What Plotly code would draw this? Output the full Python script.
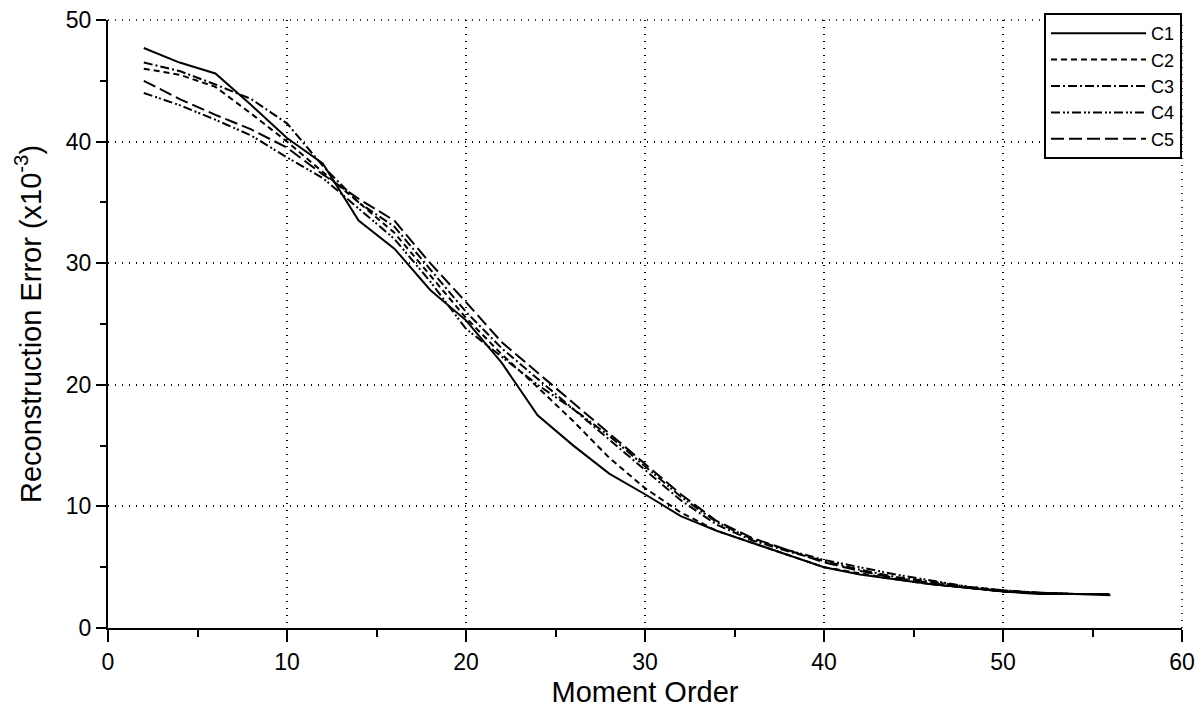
import plotly.graph_objects as go

moment_order = [2, 4, 6, 8, 10, 12, 14, 16, 18, 20, 22, 24, 26, 28, 30, 32, 34, 36, 38, 40, 42, 44, 46, 48, 50, 52, 54, 56]

c1 = [47.7, 46.5, 45.6, 43.0, 40.3, 38.2, 33.5, 31.2, 27.8, 25.3, 21.8, 17.5, 15.0, 12.7, 11.0, 9.2, 8.0, 7.0, 6.0, 5.0, 4.4, 4.0, 3.6, 3.3, 3.0, 2.8, 2.8, 2.7]
c2 = [46.0, 45.5, 44.5, 42.3, 40.0, 37.5, 35.0, 32.5, 29.0, 25.5, 22.5, 19.8, 17.0, 14.0, 11.5, 9.5, 8.0, 7.0, 6.0, 5.0, 4.5, 4.0, 3.6, 3.3, 3.0, 2.9, 2.8, 2.8]
c3 = [46.5, 45.8, 44.7, 43.5, 41.5, 38.0, 35.0, 33.0, 29.5, 26.0, 23.0, 20.5, 18.0, 15.5, 13.0, 10.5, 8.5, 7.2, 6.3, 5.5, 4.8, 4.2, 3.8, 3.4, 3.1, 2.9, 2.8, 2.8]
c4 = [44.0, 43.0, 41.8, 40.5, 38.7, 37.0, 34.5, 32.0, 28.5, 24.6, 22.3, 20.0, 18.0, 15.8, 13.3, 10.8, 8.7, 7.3, 6.4, 5.6, 5.0, 4.4, 3.9, 3.4, 3.1, 2.9, 2.8, 2.8]
c5 = [45.0, 43.5, 42.2, 41.0, 39.5, 37.3, 35.3, 33.5, 30.0, 26.8, 23.5, 21.0, 18.5, 16.0, 13.5, 11.0, 8.8, 7.4, 6.4, 5.4, 4.7, 4.1, 3.7, 3.3, 3.0, 2.9, 2.8, 2.8]

series_names = ["C1", "C2", "C3", "C4", "C5"]
series_values = [c1, c2, c3, c4, c5]
dashes = ["solid", "6px,4px", "9px,3px,2px,3px", "9px,3px,2px,2px,2px,3px", "13px,5px"]

fig = go.Figure()
for name, vals, dash in zip(series_names, series_values, dashes):
    fig.add_trace(go.Scatter(
        x=moment_order, y=vals, name=name, mode="lines",
        line=dict(color="black", width=2, dash=dash),
    ))

grid_dash = "1px,6px"

# page body has an 8px margin, so the figure is sized to fit the remaining window
fig.update_layout(
    width=1195, height=704,
    margin=dict(l=100, r=21, t=12, b=84, autoexpand=False),
    paper_bgcolor="white", plot_bgcolor="white",
    font=dict(family="Liberation Sans, Arial, sans-serif", color="black"),
    showlegend=True,
    legend=dict(
        x=1.0, xanchor="right", y=1.0 + 7 / 608, yanchor="top",
        bgcolor="white", bordercolor="black", borderwidth=2,
        font=dict(size=18, color="black"),
        itemwidth=95, tracegroupgap=0,
    ),
    shapes=[
        # dotted frame along the top and right edges (grid at y=50 and x=60)
        dict(type="line", xref="paper", yref="paper", x0=0, x1=1, y0=1, y1=1,
             line=dict(color="black", width=1.5, dash=grid_dash), layer="below"),
        dict(type="line", xref="paper", yref="paper", x0=1, x1=1, y0=0, y1=1,
             line=dict(color="black", width=1.5, dash=grid_dash), layer="below"),
    ],
)

grid_style = dict(showgrid=True, gridcolor="black", griddash=grid_dash, gridwidth=1.5)

fig.update_xaxes(
    range=[0, 60], tickvals=[0, 10, 20, 30, 40, 50, 60], automargin=False,
    ticklabeloverflow="allow",
    showline=True, linecolor="black", linewidth=2,
    ticks="outside", ticklen=12, tickwidth=2, tickcolor="black",
    minor=dict(tickvals=[5, 15, 25, 35, 45, 55], ticks="outside", ticklen=7, tickwidth=1.5, tickcolor="black", showgrid=False),
    zeroline=False, tickfont=dict(size=23),
    title=dict(text="Moment Order", font=dict(size=29), standoff=8),
    **grid_style,
)
fig.update_yaxes(
    range=[0, 50], tickvals=[0, 10, 20, 30, 40, 50], automargin=False,
    ticklabeloverflow="allow",
    showline=True, linecolor="black", linewidth=2,
    ticks="outside", ticklen=10, tickwidth=2, tickcolor="black",
    minor=dict(tickvals=[5, 15, 25, 35, 45], ticks="outside", ticklen=6, tickwidth=1.5, tickcolor="black", showgrid=False),
    zeroline=False, tickfont=dict(size=23),
    title=dict(text="Reconstruction Error (x10<sup>-3</sup>)", font=dict(size=29), standoff=16),
    **grid_style,
)

fig.write_html("out.html")
